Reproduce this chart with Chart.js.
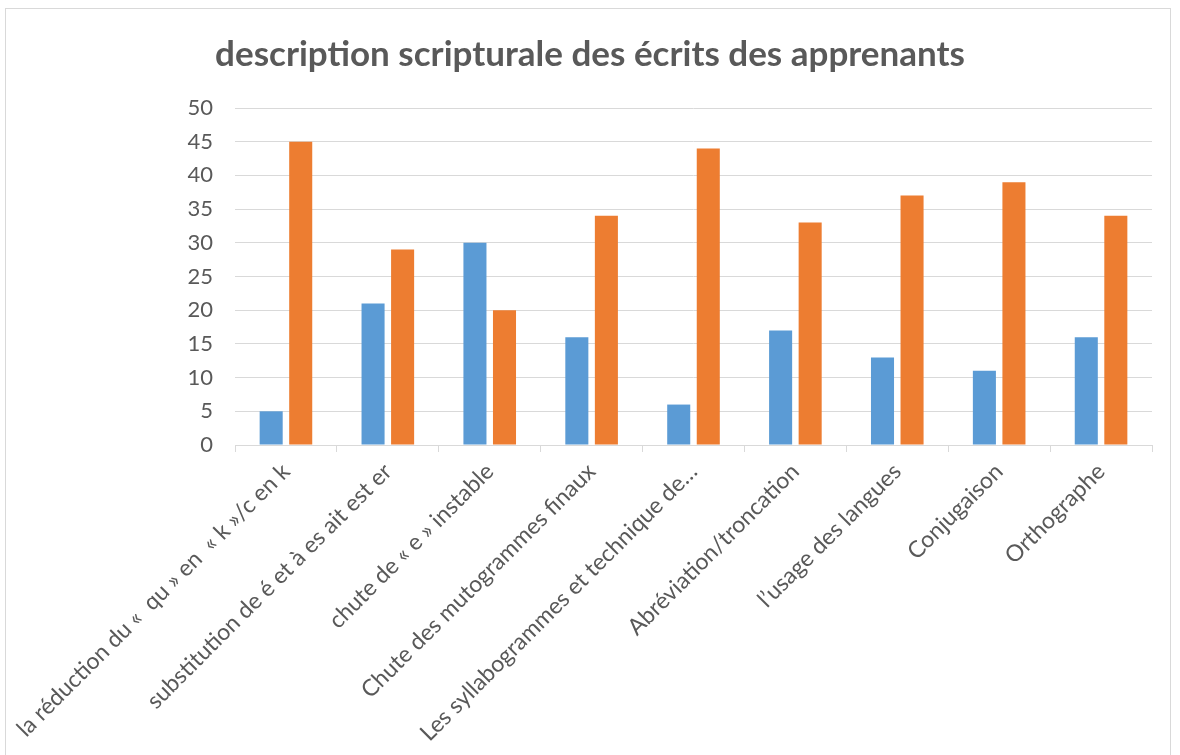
<!DOCTYPE html>
<html>
<head>
<meta charset="utf-8">
<script src="https://cdn.jsdelivr.net/npm/chart.js@4/dist/chart.umd.min.js"></script>
<style>
  html, body { margin: 0; padding: 0; background: #fff; }
  #wrap { position: relative; width: 1180px; height: 755px; overflow: hidden; }
  #frame { position: absolute; left: 5px; top: 8px; width: 1166px; height: 800px; border: 1px solid #d9d9d9; box-sizing: border-box; }
  canvas { position: absolute; left: 0; top: 0; }
</style>
</head>
<body>
<div id="wrap">
  <div id="frame"></div>
  <canvas id="chart" width="1180" height="755"></canvas>
</div>
<script>
// categories (x axis)
const categories = [
  'la réduction du «  qu » en  « k »/c en k',
  'substitution de é et à es ait est er',
  'chute de « e » instable',
  'Chute des mutogrammes finaux',
  'Les syllabogrammes et technique de…',
  'Abréviation/troncation',
  'l’usage des langues',
  'Conjugaison',
  'Orthographe'
];

// series values
const blueValues = [5, 21, 30, 16, 6, 17, 13, 11, 16];
const orangeValues = [45, 29, 20, 34, 44, 33, 37, 39, 34];

const yMax = 50;
const yStep = 5;

const textGrey = '#595959';
const gridGrey = '#d9d9d9';
const baseFont = 'Lato, "Open Sans", sans-serif';

new Chart(document.getElementById('chart'), {
  type: 'bar',
  data: {
    labels: categories,
    datasets: [
      { label: 'Série1', data: blueValues, backgroundColor: '#5b9bd5', categoryPercentage: 0.58, barPercentage: 0.78 },
      { label: 'Série2', data: orangeValues, backgroundColor: '#ed7d31', categoryPercentage: 0.58, barPercentage: 0.78 }
    ]
  },
  options: {
    responsive: false,
    animation: false,
    // equal side padding so the title sits in the middle of the canvas
    layout: { padding: { left: 28, right: 28, top: 0, bottom: 0 } },
    plugins: {
      legend: { display: false },
      tooltip: { enabled: false },
      title: {
        display: true,
        text: 'description scripturale des écrits des apprenants',
        color: textGrey,
        font: { family: baseFont, size: 35, weight: 'bold', lineHeight: 1.2 },
        padding: { top: 34, bottom: 32 }
      }
    },
    scales: {
      x: {
        afterFit: s => { s.height = 310; },
        grid: { offset: true, drawOnChartArea: false, color: gridGrey, tickLength: 7 },
        border: { display: true, color: gridGrey },
        ticks: {
          color: textGrey,
          font: { family: baseFont, size: 23 },
          minRotation: 45,
          maxRotation: 45,
          autoSkip: false,
          padding: 6
        }
      },
      y: {
        min: 0,
        max: yMax,
        afterFit: s => { s.width = 207; },
        grid: { color: gridGrey, drawTicks: false, lineWidth: 1 },
        border: { display: false },
        ticks: {
          stepSize: yStep,
          color: textGrey,
          font: { family: baseFont, size: 22 },
          padding: 22
        }
      }
    }
  }
});
</script>
</body>
</html>
